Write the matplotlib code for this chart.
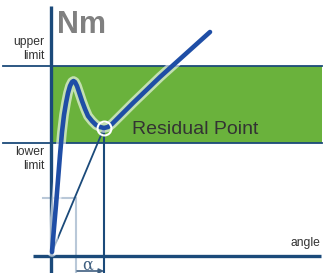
import matplotlib
matplotlib.use("Agg")
import matplotlib.pyplot as plt
import matplotlib.patheffects as pe

# --- data (angle units, torque units) ---
curve_angle = [1, 3, 5, 7, 9, 11, 13, 15, 17, 19, 21, 22.5, 24, 26, 28, 31, 34, 37,
               41, 45, 49, 53, 57, 61, 65, 69, 82, 109, 129, 159]
curve_torque = [4, 28, 51, 76, 101, 124, 141, 153, 163, 170, 174, 175, 174, 170, 164,
                155, 147, 140, 135, 131, 129, 128, 129, 132, 136, 140, 153, 179, 197, 224]
upper_limit = 190
lower_limit = 113
residual_angle = 53
residual_torque = 128
ref_angle = 25
ref_torque = 58

DARK = "#1b4a7a"
CURVE = "#1f4ea6"
GREEN = "#6ab23c"
LIGHT = "#b9c8d8"
TXT = "#333333"

fig = plt.figure(figsize=(3.25, 2.73), dpi=100)
ax = fig.add_axes([0, 0, 1, 1])
ax.set_xlim(-51, 274)
ax.set_ylim(-17, 256)
ax.axis("off")

# green tolerance band
ax.fill_between([0, 271], [lower_limit] * 2, [upper_limit] * 2, color=GREEN, lw=0, zorder=1)
# limit lines
ax.plot([-48, 271], [upper_limit] * 2, color=DARK, lw=1.3, zorder=2)
ax.plot([-48, 271], [lower_limit] * 2, color=DARK, lw=1.3, zorder=2)
# light reference lines
ax.plot([-8, ref_angle], [ref_torque] * 2, color=LIGHT, lw=1.5, zorder=2)
ax.plot([ref_angle, ref_angle], [ref_torque, -17], color=LIGHT, lw=1.5, zorder=2)
# axes
ax.plot([0, 0], [-17, 250], color=DARK, lw=2.4, zorder=3, solid_capstyle="butt")
ax.plot([-18, 270], [0, 0], color=DARK, lw=2.4, zorder=3, solid_capstyle="butt")
# secant line and residual vertical
ax.plot([curve_angle[0], residual_angle], [curve_torque[0], residual_torque],
        color=DARK, lw=1.3, zorder=4)
ax.plot([residual_angle, residual_angle], [residual_torque, -17], color=DARK, lw=1.5, zorder=4)
# torque curve
ax.plot(curve_angle, curve_torque, color=CURVE, lw=3.3, zorder=5,
        solid_joinstyle="round", solid_capstyle="round",
        path_effects=[pe.Stroke(linewidth=7, foreground="white", alpha=0.6), pe.Normal()])
# residual point circle
ax.plot([residual_angle], [residual_torque], marker="o", ms=10, mfc="none",
        mec="white", mew=1.5, zorder=6)

# texts
ax.text(6, 223, "Nm", family="Liberation Sans", weight="bold", fontsize=22,
        color="#808080", ha="left", va="baseline", zorder=7)
for t, y in (("upper", 214), ("limit", 200), ("lower", 104), ("limit", 90)):
    ax.text(-7, y, t, family="Liberation Sans", fontsize=8.7, color=TXT,
            ha="right", va="center", zorder=7)
ax.text(81, 126, "Residual Point", family="Liberation Sans", fontsize=14,
        color=TXT, ha="left", va="center", zorder=7)
ax.text(269, 13, "angle", family="Liberation Sans", fontsize=8.7, color=TXT,
        ha="right", va="center", zorder=7)
ax.text(37, -9, "α", family="DejaVu Serif", fontsize=11.5, color="#3f5f80",
        ha="center", va="center", zorder=7)
ax.annotate("", xy=(53, -15), xytext=(26, -15),
            arrowprops=dict(arrowstyle="-|>", color="#3f5f80", lw=1.2, mutation_scale=7,
                            shrinkA=0, shrinkB=0), zorder=7)

fig.savefig("out.png", dpi=100)
